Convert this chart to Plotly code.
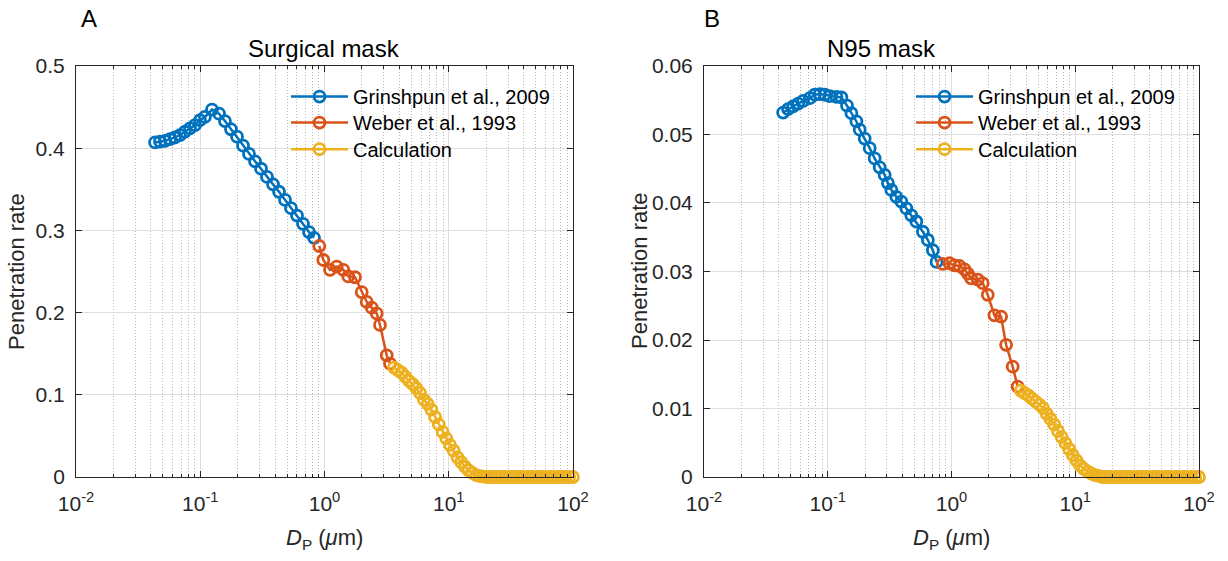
import plotly.graph_objects as go

# ---------------- data ----------------
# Panel A: Surgical mask
surg_grin_x = [0.0433, 0.0474, 0.0520, 0.0571, 0.0626, 0.0687, 0.0753, 0.0827, 0.0907, 0.0995, 0.109, 0.1243,
               0.1416, 0.158, 0.1768, 0.1976, 0.2209, 0.2469, 0.2759, 0.3083, 0.3446, 0.3851, 0.4304, 0.481,
               0.5376, 0.6008, 0.6714, 0.7503, 0.823]
surg_grin_y = [0.407, 0.408, 0.409, 0.411, 0.413, 0.416, 0.420, 0.424, 0.428, 0.434, 0.438, 0.447,
               0.442, 0.433, 0.423, 0.414, 0.403, 0.393, 0.384, 0.375, 0.365, 0.356, 0.347, 0.337,
               0.327, 0.318, 0.308, 0.298, 0.291]
surg_weber_x = [0.908, 0.978, 1.107, 1.254, 1.417, 1.554, 1.760, 1.993, 2.186, 2.398, 2.631, 2.797, 3.167, 3.367]
surg_weber_y = [0.281, 0.264, 0.252, 0.256, 0.252, 0.244, 0.243, 0.225, 0.213, 0.206, 0.199, 0.185, 0.148, 0.138]

calc_x = [3.631, 3.890, 4.169, 4.467, 4.786, 5.129, 5.495, 5.888, 6.310, 6.761, 7.244, 7.762, 8.318, 8.913,
          9.550, 10.23, 10.96, 11.75, 12.59, 13.49, 14.45, 15.49, 16.60, 17.78, 19.05, 20.42, 21.88, 23.44,
          25.12, 26.92, 28.84, 30.90, 33.11, 35.48, 38.02, 40.74, 43.65, 46.77, 50.12, 53.70, 57.54, 61.66,
          66.07, 70.79, 75.86, 81.28, 87.10, 93.33, 100.0]
surg_calc_y = [0.133, 0.130, 0.127, 0.122, 0.117, 0.113, 0.108, 0.102, 0.094, 0.089, 0.082, 0.073, 0.064, 0.055,
               0.047, 0.039, 0.032, 0.024, 0.018, 0.0125, 0.008, 0.005, 0.0024, 0.0012, 0.0004, 0, 0, 0,
               0, 0, 0, 0, 0, 0, 0, 0, 0, 0, 0, 0, 0, 0,
               0, 0, 0, 0, 0, 0, 0]

# Panel B: N95 mask
n95_grin_x = [0.04358, 0.04783, 0.05252, 0.05761, 0.06322, 0.07158, 0.07853, 0.08619, 0.09459, 0.1038, 0.1175,
              0.1289, 0.1431, 0.1553, 0.1704, 0.1812, 0.1988, 0.2182, 0.2393, 0.2627, 0.2882, 0.3064, 0.3264,
              0.3581, 0.3930, 0.4313, 0.4732, 0.5192, 0.5868, 0.6439, 0.7066, 0.7568]
n95_grin_y = [0.0532, 0.0537, 0.0541, 0.0545, 0.0549, 0.0553, 0.0558, 0.0559, 0.0558, 0.0556, 0.0555,
              0.0554, 0.0542, 0.0531, 0.0519, 0.0507, 0.0494, 0.0480, 0.0465, 0.0452, 0.0441, 0.0429, 0.0419,
              0.0409, 0.0402, 0.0392, 0.0382, 0.0373, 0.0358, 0.0346, 0.0331, 0.0314]
n95_weber_x = [0.851, 0.964, 1.057, 1.160, 1.273, 1.354, 1.441, 1.630, 1.788, 1.962, 2.222, 2.516, 2.761, 3.122, 3.425]
n95_weber_y = [0.0311, 0.0312, 0.0309, 0.0308, 0.0303, 0.0297, 0.0290, 0.0288, 0.0283, 0.0266, 0.0236, 0.0234,
               0.0193, 0.0161, 0.0132]
n95_calc_y = [0.0126, 0.01226, 0.0119, 0.01146, 0.0110, 0.01058, 0.01007, 0.0092, 0.00847, 0.00766, 0.00672,
              0.00584, 0.00496, 0.00409, 0.00321, 0.00241, 0.00168, 0.00117, 0.00077, 0.00051, 0.00029, 0.00015,
              0, 0, 0, 0, 0, 0, 0, 0, 0, 0, 0, 0, 0, 0, 0, 0, 0, 0, 0, 0, 0, 0, 0, 0, 0, 0, 0]

series_names = ["Grinshpun et al., 2009", "Weber et al., 1993", "Calculation"]
series_colors = ["#0072BD", "#D95319", "#EDB120"]

x_tickvals = [0.01, 0.1, 1, 10, 100]
x_ticktext = ["10<sup>-2</sup>", "10<sup>-1</sup>", "10<sup>0</sup>", "10<sup>1</sup>", "10<sup>2</sup>"]
x_minor = [m * d for d in (0.01, 0.1, 1, 10) for m in range(2, 10)]

panel_titles = ["Surgical mask", "N95 mask"]
panel_letters = ["A", "B"]
y_label = "Penetration rate"
x_label = "<i>D</i><sub>P</sub> (<i>μ</i>m)"

# ---------------- figure ----------------
FONT = "Liberation Sans, Arial, sans-serif"
AX = "#262626"
fig = go.Figure()

# one legend per entry so that the row spacing matches the reference
legend_ids = [["legend", "legend2", "legend3"], ["legend4", "legend5", "legend6"]]
legend_x = [0.2329, 0.7419]
legend_rows_y = [0.8626, 0.8162, 0.7688]

panels = [
    ("x", "y", [(surg_grin_x, surg_grin_y), (surg_weber_x, surg_weber_y), (calc_x, surg_calc_y)]),
    ("x2", "y2", [(n95_grin_x, n95_grin_y), (n95_weber_x, n95_weber_y), (calc_x, n95_calc_y)]),
]
for p, (xa, ya, sers) in enumerate(panels):
    for k, ((xs, ys), name, col) in enumerate(zip(sers, series_names, series_colors)):
        fig.add_trace(go.Scatter(
            x=xs, y=ys, name=name, mode="lines+markers", xaxis=xa, yaxis=ya, legend=legend_ids[p][k],
            line=dict(color=col, width=2.5),
            marker=dict(symbol="circle-open", size=11, color=col, line=dict(color=col, width=2.8)),
            cliponaxis=False,
        ))

def xaxis_cfg(domain, anchor):
    return dict(
        type="log", range=[-2, 2], domain=domain, anchor=anchor,
        tickvals=x_tickvals, ticktext=x_ticktext,
        ticks="inside", ticklen=6, tickcolor=AX, tickwidth=1,
        showline=True, linecolor=AX, linewidth=1, mirror="ticks",
        showgrid=True, gridcolor="#dedede", gridwidth=1,
        minor=dict(tickvals=x_minor, ticks="inside", ticklen=3, tickcolor=AX,
                   showgrid=True, gridcolor="#b8b8b8", griddash="1px,2px", gridwidth=1),
        tickfont=dict(family=FONT, size=21, color=AX),
        ticklabelstandoff=8, zeroline=False, automargin=False,
    )

def yaxis_cfg(rng, dt, anchor):
    return dict(
        range=rng, dtick=dt, tick0=0, domain=[0.1497, 0.8824], anchor=anchor,
        ticks="inside", ticklen=6, tickcolor=AX, tickwidth=1,
        showline=True, linecolor=AX, linewidth=1, mirror="ticks",
        showgrid=True, gridcolor="#dedede", gridwidth=1,
        tickfont=dict(family=FONT, size=21, color=AX),
        ticklabelstandoff=6, zeroline=False, automargin=False,
    )

legend_common = dict(
    font=dict(family=FONT, size=20, color="#000000"), bgcolor="rgba(0,0,0,0)",
    borderwidth=0, itemwidth=57, yanchor="top", xanchor="left", tracegroupgap=0,
)

layout_legends = {}
for p in range(2):
    for k in range(3):
        layout_legends[legend_ids[p][k]] = dict(x=legend_x[p], y=legend_rows_y[k], **legend_common)

fig.update_layout(
    width=1228, height=561, margin=dict(l=0, r=0, t=0, b=0, autoexpand=False),
    paper_bgcolor="white", plot_bgcolor="white",
    xaxis=xaxis_cfg([0.0619, 0.4666], "y"),
    yaxis=yaxis_cfg([0, 0.5], 0.1, "x"),
    xaxis2=xaxis_cfg([0.5733, 0.9764], "y2"),
    yaxis2=yaxis_cfg([0, 0.06], 0.01, "x2"),
    showlegend=True,
    **layout_legends,
)

ann = []
# panel titles
for txt, xc in zip(panel_titles, [0.2638, 0.7182]):
    ann.append(dict(text=txt, x=xc, y=0.913, xref="paper", yref="paper", xanchor="center", yanchor="middle",
                    showarrow=False, font=dict(family=FONT, size=24, color="#000000")))
# panel letters
for txt, xc in zip(panel_letters, [0.0721, 0.5798]):
    ann.append(dict(text=txt, x=xc, y=0.967, xref="paper", yref="paper", xanchor="center", yanchor="middle",
                    showarrow=False, font=dict(family=FONT, size=24, color="#000000")))
# axis labels
for xc in [0.2642, 0.7748]:
    ann.append(dict(text=x_label, x=xc, y=0.04, xref="paper", yref="paper", xanchor="center", yanchor="middle",
                    showarrow=False, font=dict(family=FONT, size=22, color=AX)))
for xc in [0.0138, 0.5212]:
    ann.append(dict(text=y_label, x=xc, y=0.517, xref="paper", yref="paper", xanchor="center", yanchor="middle",
                    textangle=-90, showarrow=False, font=dict(family=FONT, size=22, color=AX)))
fig.update_layout(annotations=ann)

fig.write_html("out.html")
